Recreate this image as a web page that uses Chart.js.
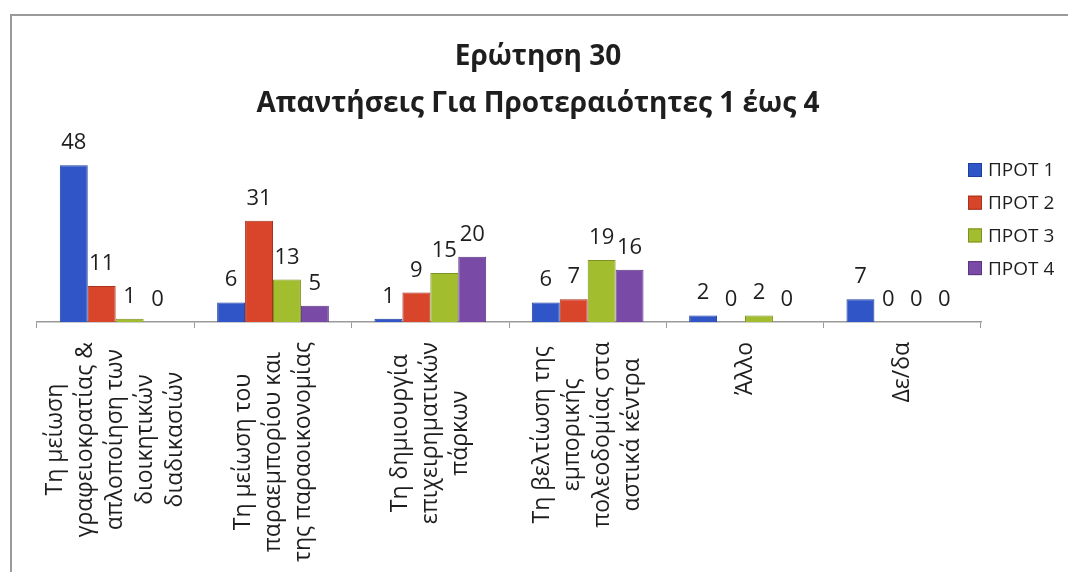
<!DOCTYPE html>
<html>
<head>
<meta charset="utf-8">
<script src="https://cdn.jsdelivr.net/npm/chart.js@4.4.1/dist/chart.umd.min.js"></script>
<style>
  html, body { margin: 0; padding: 0; background: #fff; }
  canvas { display: block; }
</style>
</head>
<body>
<canvas id="chart30" width="1068" height="572"></canvas>
<script>
// Chart data
const categories = [
    ['Τη μείωση', 'γραφειοκρατίας &', 'απλοποίηση των', 'διοικητικών', 'διαδικασιών'],
    ['Τη μείωση του', 'παραεμπορίου και', 'της παραοικονομίας'],
    ['Τη δημιουργία', 'επιχειρηματικών', 'πάρκων'],
    ['Τη βελτίωση της', 'εμπορικής', 'πολεοδομίας στα', 'αστικά κέντρα'],
    ['Άλλο'],
    ['Δε/δα']
];
const seriesNames = ['ΠΡΟΤ 1', 'ΠΡΟΤ 2', 'ΠΡΟΤ 3', 'ΠΡΟΤ 4'];
const prot1 = [48, 6, 1, 6, 2, 7];
const prot2 = [11, 31, 9, 7, 0, 0];
const prot3 = [1, 13, 15, 19, 2, 0];
const prot4 = [0, 5, 20, 16, 0, 0];
const titleLines = ['Ερώτηση 30', 'Απαντήσεις Για Προτεραιότητες 1 έως 4'];

const fills = ['#2f55c6', '#d8452b', '#a2bd2d', '#7a4ba6'];
const edges = ['#1f3f9e', '#a8321d', '#7c9220', '#5a3580'];
const textColor = '#1e1e1e';
const fontFamily = '"Open Sans", "Noto Sans", sans-serif';

// Frame, title, value labels, category labels and legend
const decorations = {
    id: 'decorations',
    beforeDraw(chart) {
        const ctx = chart.ctx;
        ctx.save();
        ctx.fillStyle = '#fff';
        ctx.fillRect(0, 0, chart.width, chart.height);
        ctx.strokeStyle = '#9a9a9a';
        ctx.lineWidth = 2;
        ctx.beginPath();
        ctx.moveTo(11, chart.height);
        ctx.lineTo(11, 15);
        ctx.lineTo(chart.width, 15);
        ctx.stroke();
        ctx.restore();
    },
    afterDraw(chart) {
        const ctx = chart.ctx;
        const xScale = chart.scales.x;
        ctx.save();
        ctx.fillStyle = textColor;

        // title
        ctx.font = 'bold 28px ' + fontFamily;
        ctx.textAlign = 'center';
        ctx.textBaseline = 'middle';
        ctx.fillText(titleLines[0], 538, 57);
        ctx.fillText(titleLines[1], 538, 104);

        // value labels above bars
        ctx.font = '22px ' + fontFamily;
        ctx.textBaseline = 'alphabetic';
        chart.data.datasets.forEach((ds, d) => {
            chart.getDatasetMeta(d).data.forEach((bar, i) => {
                ctx.fillText(String(ds.data[i]), bar.x, bar.y - 16);
            });
        });

        // rotated category labels
        ctx.font = '23px ' + fontFamily;
        ctx.textBaseline = 'middle';
        const pitch = 30;
        chart.data.labels.forEach((lines, i) => {
            const x = xScale.getPixelForValue(i);
            const maxW = Math.max(...lines.map(l => ctx.measureText(l).width));
            const cy = 342 + maxW / 2;
            ctx.save();
            ctx.translate(x, cy);
            ctx.rotate(-Math.PI / 2);
            lines.forEach((line, j) => {
                ctx.fillText(line, 0, (j - (lines.length - 1) / 2) * pitch);
            });
            ctx.restore();
        });

        // legend
        ctx.font = '19px ' + fontFamily;
        ctx.textAlign = 'left';
        chart.data.datasets.forEach((ds, d) => {
            const y = 170 + d * 32.7;
            ctx.fillStyle = ds.backgroundColor;
            ctx.fillRect(968, y - 7, 14, 14);
            ctx.strokeStyle = ds.borderColor;
            ctx.lineWidth = 1;
            ctx.strokeRect(968.5, y - 6.5, 13, 13);
            ctx.fillStyle = textColor;
            ctx.fillText(ds.label, 988, y + 1);
        });
        ctx.restore();
    }
};

const seriesData = [prot1, prot2, prot3, prot4];
const ctx = document.getElementById('chart30').getContext('2d');
new Chart(ctx, {
    type: 'bar',
    data: {
        labels: categories,
        datasets: seriesNames.map((name, k) => ({
            label: name,
            data: seriesData[k],
            backgroundColor: fills[k],
            borderColor: edges[k],
            borderWidth: 1,
            categoryPercentage: 0.71,
            barPercentage: 1
        }))
    },
    options: {
        responsive: false,
        animation: false,
        layout: { padding: { left: 37, right: 87, top: 126, bottom: 244 } },
        plugins: {
            legend: { display: false },
            title: { display: false },
            tooltip: { enabled: false }
        },
        scales: {
            x: {
                grid: { offset: true, drawOnChartArea: false, drawTicks: true, tickLength: 6, color: '#9a9a9a' },
                border: { display: true, color: '#9a9a9a', width: 1.5 },
                ticks: { display: false }
            },
            y: {
                display: false,
                min: 0,
                max: 60
            }
        }
    },
    plugins: [decorations]
});
</script>
</body>
</html>
